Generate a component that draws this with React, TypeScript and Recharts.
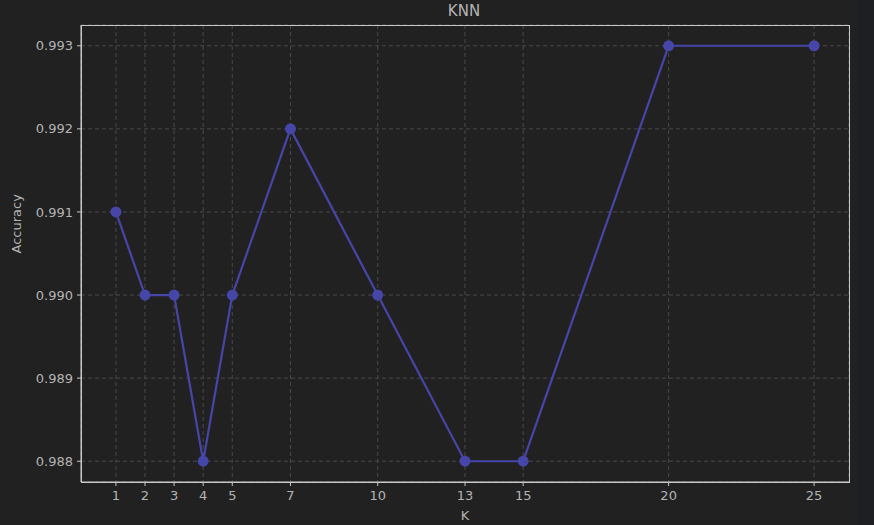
import { CartesianGrid, Label, Line, LineChart, XAxis, YAxis } from "recharts";

const kValues = [1, 2, 3, 4, 5, 7, 10, 13, 15, 20, 25];
const accuracy = [0.991, 0.99, 0.99, 0.988, 0.99, 0.992, 0.99, 0.988, 0.988, 0.993, 0.993];
const yTicks = [0.988, 0.989, 0.99, 0.991, 0.992, 0.993];

const data = kValues.map((k, i) => ({ k, acc: accuracy[i] }));

const bg = "#212121";
const textColor = "#b4b4b4";
const lineColor = "#4646a8";
const font = "DejaVu Sans, sans-serif";

export default function App() {
  return (
    <div style={{ position: "absolute", left: 0, top: 0, width: 874, height: 525, background: bg }}>
      <div style={{ position: "absolute", left: 857, top: 0, width: 17, height: 525, background: "#1e1f22" }} />
      <div
        style={{
          position: "absolute",
          left: 0,
          top: 2,
          width: 928,
          textAlign: "center",
          color: textColor,
          fontFamily: font,
          fontSize: 15,
        }}
      >
        KNN
      </div>
      <LineChart
        width={874}
        height={525}
        data={data}
        margin={{ top: 25, right: 25, bottom: 0, left: 0 }}
        style={{ position: "absolute", left: 0, top: 0, fontFamily: font }}
      >
        <CartesianGrid stroke="#4a4a4a" strokeDasharray="4 3" />
        <XAxis
          dataKey="k"
          type="number"
          domain={[-0.2, 26.2]}
          ticks={kValues}
          interval={0}
          height={43}
          stroke="#c8c8c8"
          tickSize={4}
          tickMargin={5}
          tick={{ fill: textColor, fontSize: 13 }}
        >
          <Label value="K" position="insideBottom" offset={5} fill={textColor} fontSize={13} />
        </XAxis>
        <YAxis
          type="number"
          domain={[0.98775, 0.99325]}
          ticks={yTicks}
          interval={0}
          width={81}
          stroke="#c8c8c8"
          tickSize={4}
          tickMargin={4}
          tickFormatter={(v: number) => v.toFixed(3)}
          tick={{ fill: textColor, fontSize: 13 }}
        >
          <Label value="Accuracy" angle={-90} position="insideLeft" offset={16} fill={textColor} fontSize={13} />
        </YAxis>
        <Line
          dataKey="acc"
          stroke={lineColor}
          strokeWidth={2.2}
          dot={{ r: 5.5, fill: lineColor, stroke: lineColor, strokeWidth: 0 }}
          activeDot={false}
          isAnimationActive={false}
        />
      </LineChart>
      <div
        style={{
          position: "absolute",
          left: 81,
          top: 25,
          width: 767,
          height: 456,
          border: "1px solid #c8c8c8",
          pointerEvents: "none",
        }}
      />
    </div>
  );
}
